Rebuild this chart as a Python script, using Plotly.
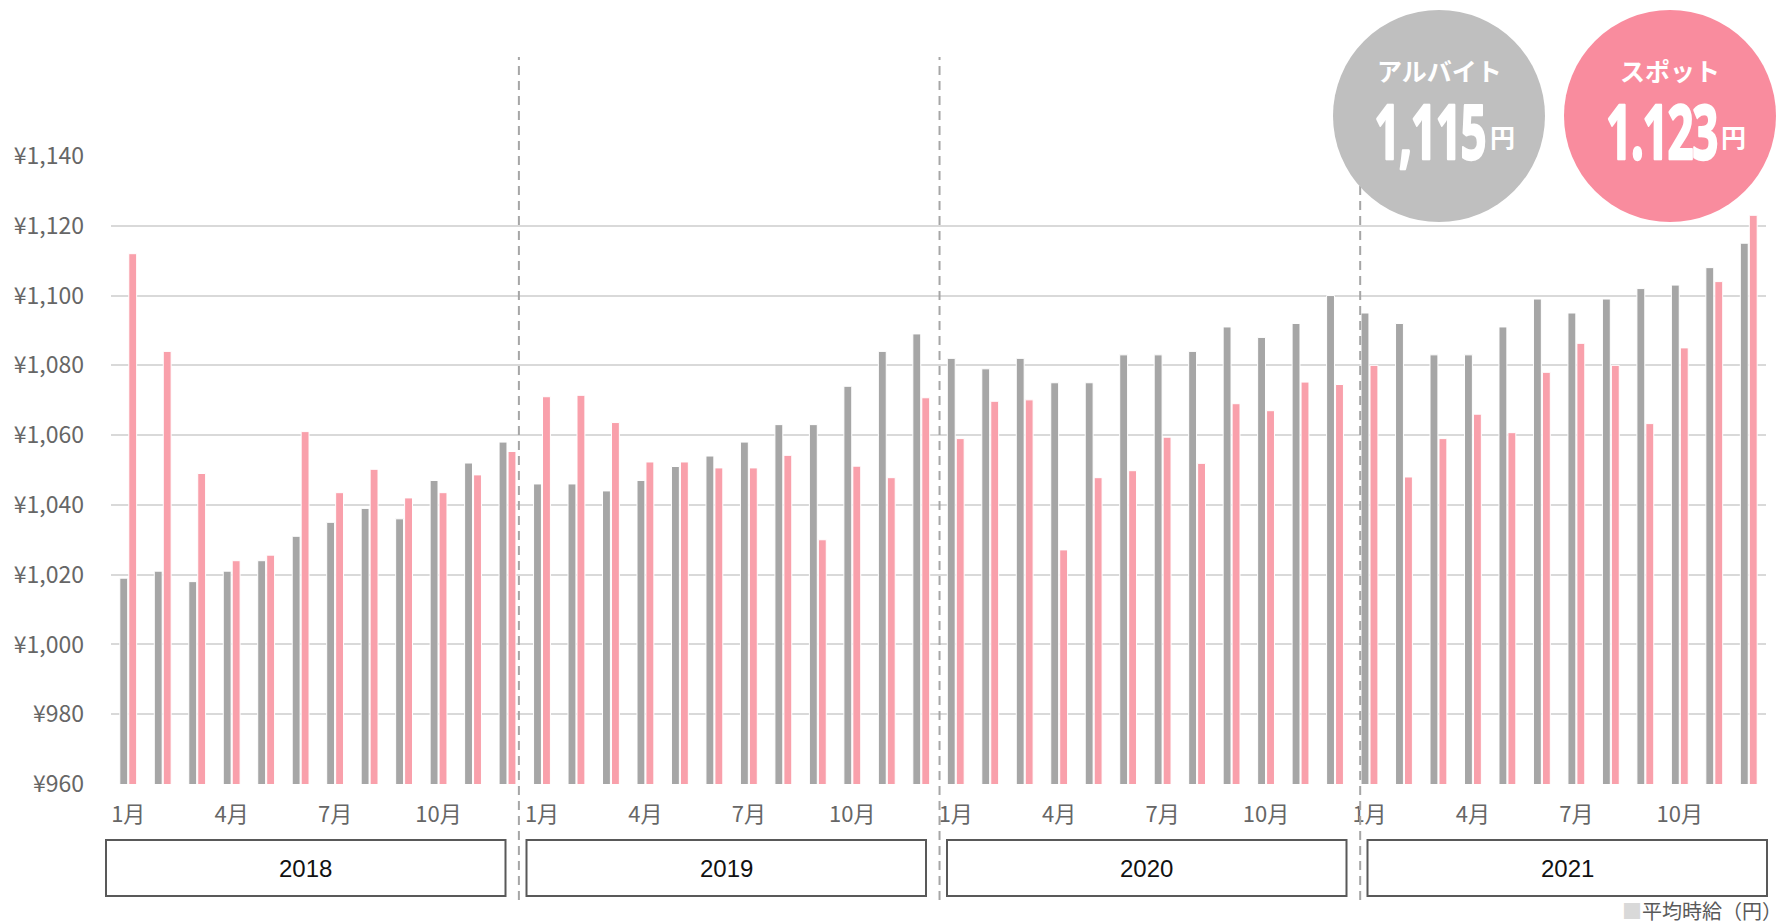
import plotly.graph_objects as go

# ---------------- data ----------------
years = [2018, 2019, 2020, 2021]
months = [1, 2, 3, 4, 5, 6, 7, 8, 9, 10, 11, 12]
tick_months = [1, 4, 7, 10]

# アルバイト (gray)
arubaito = [
    1019, 1021, 1018, 1021, 1024, 1031, 1035, 1039, 1036, 1047, 1052, 1058,
    1046, 1046, 1044, 1047, 1051, 1054, 1058, 1063, 1063, 1074, 1084, 1089,
    1082, 1079, 1082, 1075, 1075, 1083, 1083, 1084, 1091, 1088, 1092, 1100,
    1095, 1092, 1083, 1083, 1091, 1099, 1095, 1099, 1102, 1103, 1108, 1115,
]
# スポット (pink)
spot = [
    1112, 1084, 1049, 1024, 1025.6, 1061, 1043.5, 1050.2, 1042, 1043.5, 1048.6, 1055.3,
    1071, 1071.4, 1063.6, 1052.3, 1052.3, 1050.6, 1050.6, 1054.2, 1030, 1051.1, 1047.8, 1070.7,
    1059, 1069.7, 1070.1, 1027.1, 1047.8, 1049.8, 1059.4, 1051.9, 1069, 1067, 1075.2, 1074.5,
    1080, 1048, 1059, 1066, 1060.7, 1078, 1086.3, 1080, 1063.3, 1085, 1104, 1123,
]
y_ticks = [960, 980, 1000, 1020, 1040, 1060, 1080, 1100, 1120, 1140]

badge_labels = ["アルバイト", "スポット"]
badge_values = ["1,115", "1.123"]
badge_unit = "円"
footnote = "平均時給（円）"

# ---------------- layout helpers ----------------
W, H = 1784, 923
L, R, T, B = 111, 18, 156, 139
PW, PH = W - L - R, H - T - B

categories = [f"{y}-{m:02d}" for y in years for m in months]
N = len(categories)


def px(xp):
    return (xp - L) / PW


def py(yp):
    return (H - B - yp) / PH


def cx(c):
    return (c + 0.5) / N


GRAY = "#a6a6a6"
PINK = "#f9a0ab"
TXT = "#666666"

fig = go.Figure()
fig.add_trace(go.Bar(x=categories, y=arubaito, name="アルバイト",
                     marker=dict(color=GRAY, line=dict(color="white", width=1))))
fig.add_trace(go.Bar(x=categories, y=spot, name="スポット",
                     marker=dict(color=PINK, line=dict(color="white", width=1))))

tickvals = [f"{y}-{m:02d}" for y in years for m in tick_months]
ticktext = [f"{m}月" for y in years for m in tick_months]

shapes = []
annotations = []

# dashed year dividers
for c in [11.33, 23.53, 35.73]:
    shapes.append(dict(type="line", xref="paper", yref="paper",
                       x0=cx(c), x1=cx(c), y0=py(900), y1=py(57),
                       line=dict(color="#a6a6a6", width=2, dash="9px,6px"), layer="above"))

# year boxes
box_w, box_gap, box_x0 = 399.5, 21, 106
for i, y in enumerate(years):
    x0 = box_x0 + i * (box_w + box_gap)
    x1 = x0 + box_w
    shapes.append(dict(type="rect", xref="paper", yref="paper",
                       x0=px(x0), x1=px(x1), y0=py(896), y1=py(840),
                       line=dict(color="#595959", width=2), fillcolor="white"))
    annotations.append(dict(x=px((x0 + x1) / 2), y=py(868), xref="paper", yref="paper",
                            text=str(y), showarrow=False, xanchor="center", yanchor="middle",
                            font=dict(family="Liberation Sans, Arial", size=24, color="#111111")))

# badges
badge_centers = [(1439, 116), (1670, 116)]
digit_centers = [1430, 1661]
badge_colors = ["#bfbfbf", "#f98c9e"]
for (bx, by), dxc, col, lab, val in zip(badge_centers, digit_centers, badge_colors,
                                          badge_labels, badge_values):
    shapes.append(dict(type="circle", xref="paper", yref="paper",
                       xsizemode="pixel", ysizemode="pixel",
                       xanchor=px(bx), yanchor=py(by),
                       x0=-106, x1=106, y0=-106, y1=106,
                       fillcolor=col, line=dict(width=0), layer="above"))
    annotations.append(dict(x=px(bx), y=py(70), xref="paper", yref="paper",
                            text=f"<b>{lab}</b>", showarrow=False,
                            xanchor="center", yanchor="middle",
                            font=dict(family="Noto Sans CJK JP", size=25, color="white")))
    annotations.append(dict(x=px(dxc), y=py(129), xref="paper", yref="paper",
                            text=f"<b>{val}</b>", showarrow=False,
                            xanchor="center", yanchor="middle",
                            font=dict(family="Noto Sans", size=76, color="white")))
    annotations.append(dict(x=px(dxc + 58), y=py(156), xref="paper", yref="paper",
                            text=f"<b>{badge_unit}</b>", showarrow=False,
                            xanchor="left", yanchor="bottom",
                            font=dict(family="Noto Sans CJK JP", size=25, color="white")))

# footnote
annotations.append(dict(x=px(1784), y=py(910), xref="paper", yref="paper",
                        text=f'<span style="color:#d9d9d9">■</span>{footnote}',
                        showarrow=False, xanchor="right", yanchor="middle",
                        font=dict(family="Noto Sans CJK JP", size=20, color="#595959")))

fig.update_layout(
    width=W, height=H,
    margin=dict(l=L, r=R, t=T, b=B, pad=0),
    paper_bgcolor="white", plot_bgcolor="white",
    barmode="group", bargap=0.48, bargroupgap=0.12,
    showlegend=False,
    shapes=shapes, annotations=annotations,
    font=dict(family="Noto Sans CJK JP", color=TXT),
    xaxis=dict(type="category", range=[-0.5, N - 0.5],
               tickmode="array", tickvals=tickvals, ticktext=ticktext,
               tickfont=dict(size=22, color=TXT, family="Noto Sans CJK JP"),
               ticks="", showgrid=False, showline=False, zeroline=False,
               ticklabelstandoff=15),
    yaxis=dict(range=[960, 1140], tickmode="array", tickvals=y_ticks,
               ticktext=[f"¥{v:,}" for v in y_ticks],
               tickfont=dict(size=23, color=TXT, family="Noto Sans CJK JP"),
               showgrid=True, gridcolor="#d9d9d9", gridwidth=2,
               zeroline=False, showline=False, ticks="", ticklabelstandoff=26),
)

squeeze_js = """
(function(){
  var vals = %s;
  function squeeze(){
    document.querySelectorAll('text.annotation-text').forEach(function(t){
      if (vals.indexOf(t.textContent) >= 0) {
        t.style.transformBox = 'fill-box';
        t.style.transformOrigin = '50%% 50%%';
        t.style.transform = 'scaleX(0.6)';
        t.style.letterSpacing = '-2px';
        t.style.stroke = 'white';
        t.style.strokeWidth = '2.5px';
        t.style.strokeLinejoin = 'round';
      }
    });
  }
  document.body.style.margin = '0';
  document.body.style.overflow = 'hidden';
  squeeze();
  var gd = document.getElementById('{plot_id}');
  if (gd && gd.on) { gd.on('plotly_afterplot', squeeze); }
  setTimeout(squeeze, 50);
})();
""" % str(badge_values).replace("'", '"')

fig.write_html("out.html", config={"displayModeBar": False}, post_script=squeeze_js)
